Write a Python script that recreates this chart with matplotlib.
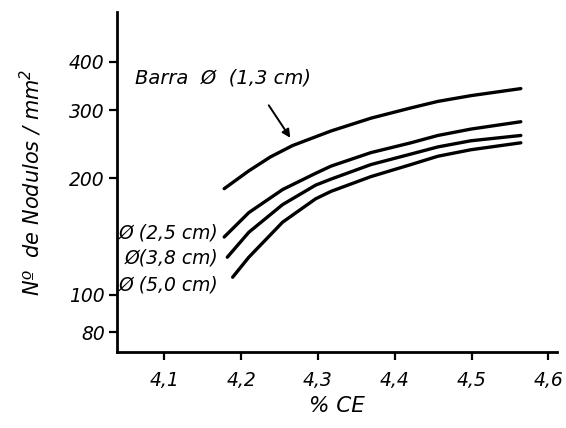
"""nodule count vs carbon equivalent, log scale"""

import matplotlib
matplotlib.use('Agg')
import matplotlib.pyplot as plt
from matplotlib.ticker import FixedLocator, FixedFormatter, NullLocator

# curves: % CE vs number of nodules per mm2
ce_13 = [4.178, 4.210, 4.238, 4.267, 4.317, 4.369, 4.421, 4.456, 4.499, 4.564]
nod_13 = [188, 209, 227, 243, 265, 286, 304, 316, 327, 341]

ce_25 = [4.178, 4.210, 4.254, 4.297, 4.317, 4.369, 4.421, 4.456, 4.499, 4.564]
nod_25 = [141, 163, 187, 206, 215, 233, 247, 258, 268, 280]

ce_38 = [4.182, 4.210, 4.254, 4.297, 4.317, 4.369, 4.421, 4.456, 4.499, 4.564]
nod_38 = [125, 145, 171, 192, 199, 217, 231, 241, 250, 258]

ce_50 = [4.189, 4.210, 4.254, 4.297, 4.317, 4.369, 4.421, 4.456, 4.499, 4.564]
nod_50 = [111, 125, 154, 177, 185, 202, 217, 228, 237, 247]

x_ticks = [4.1, 4.2, 4.3, 4.4, 4.5, 4.6]
x_labels = ['4,1', '4,2', '4,3', '4,4', '4,5', '4,6']
y_ticks = [80, 100, 200, 300, 400]
y_labels = ['80', '100', '200', '300', '400']

small_labels = ['Ø (2,5 cm)', 'Ø(3,8 cm)', 'Ø (5,0 cm)']

plt.rcParams['font.family'] = ['DejaVu Sans']
plt.rcParams['font.style'] = 'italic'

fig = plt.figure(figsize=(5.66, 4.28), dpi=100)
ax = fig.add_axes([0.207, 0.178, 0.777, 0.794])

for xs, ys in [(ce_13, nod_13), (ce_25, nod_25), (ce_38, nod_38), (ce_50, nod_50)]:
    ax.plot(xs, ys, color='black', lw=2.4, solid_capstyle='round',
            solid_joinstyle='round')

ax.set_yscale('log')
ax.set_xlim(4.0387, 4.611)
ax.set_ylim(71.2, 538)

ax.xaxis.set_major_locator(FixedLocator(x_ticks))
ax.xaxis.set_major_formatter(FixedFormatter(x_labels))
ax.yaxis.set_major_locator(FixedLocator(y_ticks))
ax.yaxis.set_major_formatter(FixedFormatter(y_labels))
ax.yaxis.set_minor_locator(NullLocator())
ax.xaxis.set_minor_locator(NullLocator())

for side in ['top', 'right']:
    ax.spines[side].set_visible(False)
for side in ['left', 'bottom']:
    ax.spines[side].set_linewidth(2)
ax.tick_params(direction='out', length=6, width=1.6, labelsize=13.5)
ax.tick_params(axis='y', pad=3)
ax.tick_params(axis='x', pad=8)

ax.set_xlabel('% CE', fontsize=15.5, labelpad=4)
ax.set_ylabel('Nº  de Nodulos / mm$^{\\mathit{2}}$', fontsize=15, labelpad=18)

# labels next to the curves
ax.text(4.062, 364, 'Barra  Ø  (1,3 cm)', fontsize=14, va='center', ha='left')
ax.annotate('', xy=(4.266, 251), xytext=(4.234, 313),
            arrowprops=dict(arrowstyle='-|>', color='black', lw=1.4,
                            mutation_scale=12))
for lab, yv in zip(small_labels, [144.7, 124.6, 106.1]):
    ax.text(4.170, yv, lab, fontsize=13.5, va='center', ha='right')

fig.savefig('out.png', dpi=100, facecolor='white')
